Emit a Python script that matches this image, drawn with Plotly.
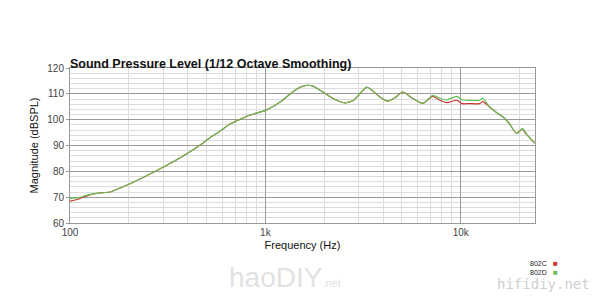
import plotly.graph_objects as go

freq = [100, 110, 125, 140, 160, 180, 200, 240, 280, 330, 400, 480, 520, 580, 660, 750, 830, 1000,
        1100, 1200, 1380, 1500, 1630, 1750, 1970, 2220, 2550, 2800, 3000, 3300, 3500, 3850, 4230,
        4600, 5050, 5680, 6400, 7200, 7830, 8480, 9560, 10150, 11000, 12500, 13000, 14000, 15000,
        16400, 17500, 19300, 20000, 20700, 21300, 21900, 23900]
spl_802C = [68.5, 69.2, 70.8, 71.6, 72.0, 73.5, 75.0, 77.8, 80.4, 83.3, 87.0, 91.0, 93.0, 95.3, 98.3,
            100.3, 101.7, 103.6, 105.2, 107.0, 110.7, 112.5, 113.3, 113.0, 110.7, 108.2, 106.5,
            107.3, 109.5, 112.6, 111.5, 108.8, 107.2, 108.5, 110.7, 108.2, 106.3, 109.0, 107.5,
            106.6, 107.5, 106.2, 106.2, 106.2, 107.0, 105.0, 103.2, 101.1, 99.0, 94.7, 95.5, 96.4,
            95.0, 94.0, 90.9]
spl_802D = [69.5, 69.8, 71.0, 71.6, 72.0, 73.5, 75.0, 77.8, 80.4, 83.3, 87.0, 91.0, 93.0, 95.3, 98.3,
            100.3, 101.7, 103.6, 105.2, 107.0, 110.7, 112.5, 113.3, 113.0, 110.7, 108.2, 106.5,
            107.3, 109.5, 112.6, 111.5, 108.8, 107.2, 108.5, 110.7, 108.2, 106.3, 109.4, 108.3,
            107.7, 109.0, 107.7, 107.5, 107.5, 108.3, 105.0, 103.2, 101.1, 99.0, 94.7, 95.5, 96.6,
            95.5, 94.0, 90.9]
series_names = ["802C", "802D"]
series_colors = ["#cc3333", "#66c255"]

x_major = [100, 1000, 10000]
x_major_text = ["100", "1k", "10k"]
x_minor = [200, 300, 400, 500, 600, 700, 800, 900, 2000, 3000, 4000, 5000, 6000, 7000, 8000, 9000, 20000]

L, R, T, B = 70, 535, 68, 223


def px(x):
    return (x - L) / (R - L)


def py(y):
    return (B - y) / (B - T)


fig = go.Figure()
for name, vals, col in zip(series_names, [spl_802C, spl_802D], series_colors):
    fig.add_trace(go.Scatter(x=freq, y=vals, mode="lines", name=name,
                             line=dict(color=col, width=1.2, shape="spline", smoothing=0.6)))

fig.update_layout(
    width=600, height=300,
    margin=dict(l=L, r=600 - R, t=T, b=300 - B),
    paper_bgcolor="white", plot_bgcolor="white",
    showlegend=False,
    font=dict(family="Liberation Sans, Arial, sans-serif", color="#333"),
    title=dict(text="<b>Sound Pressure Level (1/12 Octave Smoothing)</b>",
               x=70/600, xanchor="left", y=1-68/300, yanchor="bottom",
               font=dict(size=12.5, color="#111")),
    xaxis=dict(type="log", range=[2, 4.38], tickvals=x_major, ticktext=x_major_text,
               showgrid=True, gridcolor="#9a9a9a", gridwidth=1,
               minor=dict(tickvals=x_minor, showgrid=True, gridcolor="#dcdcdc", ticks=""),
               showline=True, linecolor="#999", mirror=True, ticks="",
               tickfont=dict(size=10, color="#444"), ticklabelstandoff=0,
               title=dict(text="Frequency (Hz)", font=dict(size=11, color="#111"), standoff=4),
               zeroline=False),
    yaxis=dict(range=[60, 120], dtick=10, showgrid=True, gridcolor="#9a9a9a", gridwidth=1,
               minor=dict(dtick=2, showgrid=True, gridcolor="#dcdcdc", ticks=""),
               showline=True, linecolor="#999", mirror=True, ticks="outside", ticklen=3,
               tickcolor="#999",
               tickfont=dict(size=10, color="#444"),
               title=dict(text="Magnitude (dBSPL)", font=dict(size=11, color="#111"), standoff=6),
               zeroline=False),
)

# legend (right-aligned labels with coloured squares)
for i, (name, col) in enumerate(zip(series_names, series_colors)):
    yy = py(263 + i * 9)
    fig.add_annotation(text=name, x=px(549), y=yy, xref="paper", yref="paper",
                       xanchor="right", yanchor="middle", showarrow=False,
                       font=dict(size=7, color="#222"))
    fig.add_annotation(text="■", x=px(551), y=yy, xref="paper", yref="paper",
                       xanchor="left", yanchor="middle", showarrow=False,
                       font=dict(size=8, color=col))

# watermarks
fig.add_annotation(text="haoDIY<span style='font-size:11px'>.net</span>", x=px(285), y=py(277),
                   xref="paper", yref="paper", showarrow=False, yanchor="middle",
                   font=dict(size=28, color="#e2e2e2", family="Liberation Sans, Arial"))
fig.add_annotation(text="hifidiy.net", x=px(592), y=py(284), xref="paper", yref="paper",
                   xanchor="right", yanchor="middle",
                   showarrow=False, font=dict(size=14, color="#cfcfcf", family="DejaVu Sans Mono"))

fig.write_html("out.html")
